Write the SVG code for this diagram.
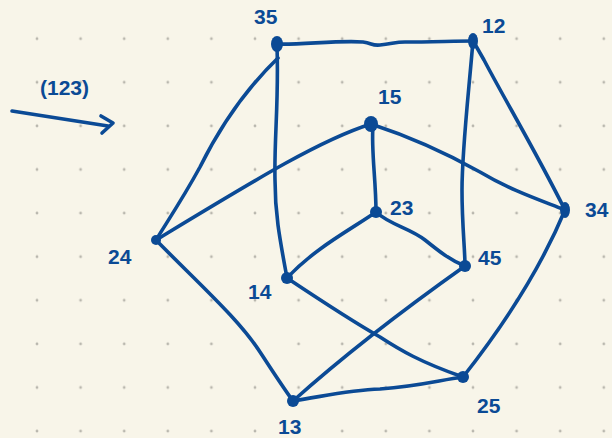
<svg xmlns="http://www.w3.org/2000/svg" width="612" height="438" viewBox="0 0 612 438">
<defs>
<pattern id="grid" x="15.2" y="16.9" width="43.6" height="43.6" patternUnits="userSpaceOnUse">
<circle cx="21.8" cy="21.8" r="1.4" fill="#b9b7ae"/>
</pattern>
<style>
.e{fill:none;stroke:#0b4a95;stroke-width:3.6;stroke-linecap:round;stroke-linejoin:round}
.n{fill:#0b4a95}
.t{fill:#0b4a95;font-family:"Liberation Sans",Arial,sans-serif;font-size:21px;font-weight:bold}
</style>
</defs>
<rect width="612" height="438" fill="#f8f5e9"/>
<rect width="612" height="438" fill="url(#grid)"/>

<g id="connectors">
<path class="e" d="M277,44 C300,45 340,40 363,42 C372,43 372,46 380,45 C392,44 395,42 405,42 C430,42 455,41 473,41"/>
<path class="e" d="M278,58 C252,83 226,115 200,167 C182,200 165,225 156,240"/>
<path class="e" d="M277,46 C279,100 274,140 275,180 C275,215 280,240 287,278"/>
<path class="e" d="M473,41 C468,100 462,150 462,190 C462,225 465,250 465,266"/>
<path class="e" d="M476,46 L484,60 C505,100 535,150 565,210"/>
<path class="e" d="M371,124 C320,140 255,180 156,240"/>
<path class="e" d="M371,124 C420,140 455,158 480,172 C510,190 540,200 565,210"/>
<path class="e" d="M373,126 C371,150 376,180 376,212"/>
<path class="e" d="M376,212 C350,230 315,248 287,278"/>
<path class="e" d="M376,212 C390,225 410,228 425,240 C440,252 450,260 465,266"/>
<path class="e" d="M156,240 C200,285 240,320 262,355 C275,375 285,390 293,401"/>
<path class="e" d="M287,278 C320,300 350,320 380,337 C400,350 420,362 463,377"/>
<path class="e" d="M465,266 C410,305 350,350 293,401"/>
<path class="e" d="M565,210 C540,270 500,330 463,377"/>
<path class="e" d="M293,401 C330,395 350,390 380,389 C420,386 440,380 463,377"/>
</g>

<g id="node-35"><ellipse class="n" cx="277" cy="44" rx="6" ry="8"/><text class="t" x="254" y="24">35</text></g>
<g id="node-12"><ellipse class="n" cx="473" cy="41" rx="5" ry="8"/><text class="t" x="482" y="33">12</text></g>
<g id="node-15"><ellipse class="n" cx="371" cy="124" rx="7" ry="8"/><text class="t" x="378" y="104">15</text></g>
<g id="node-23"><circle class="n" cx="376" cy="212" r="6"/><text class="t" x="390" y="215">23</text></g>
<g id="node-34"><ellipse class="n" cx="565" cy="210" rx="5" ry="8"/><text class="t" x="585" y="217">34</text></g>
<g id="node-24"><circle class="n" cx="156" cy="240" r="5"/><text class="t" x="108" y="264">24</text></g>
<g id="node-14"><circle class="n" cx="287" cy="278" r="6"/><text class="t" x="248" y="299">14</text></g>
<g id="node-45"><circle class="n" cx="465" cy="266" r="6"/><text class="t" x="478" y="265">45</text></g>
<g id="node-13"><circle class="n" cx="293" cy="401" r="6"/><text class="t" x="278" y="434">13</text></g>
<g id="node-25"><circle class="n" cx="463" cy="377" r="6"/><text class="t" x="477" y="413">25</text></g>

<g id="label">
<text class="t" x="40" y="95" font-size="21">(123)</text>
<path class="e" d="M12,111 L108,126"/>
<path class="e" d="M101,116 L113,123 L102,133"/>
</g>
</svg>
